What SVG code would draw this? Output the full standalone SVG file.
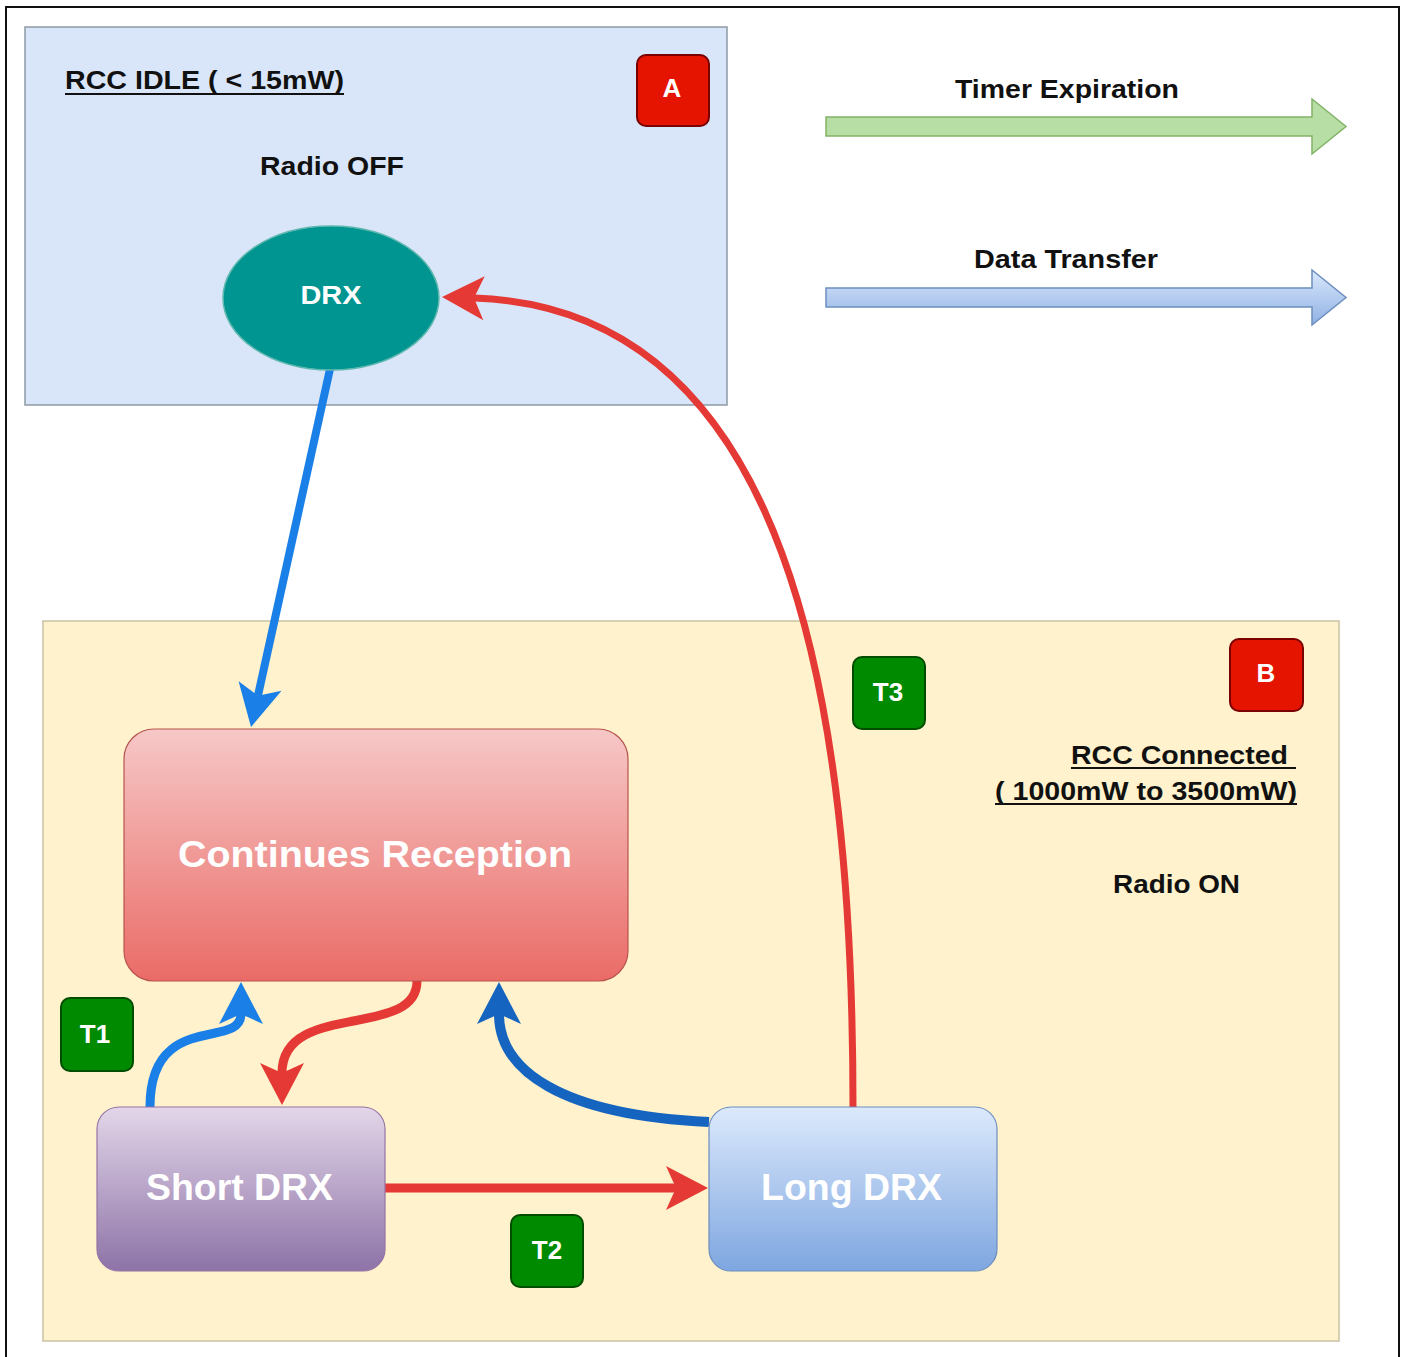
<svg xmlns="http://www.w3.org/2000/svg" width="1405" height="1357" viewBox="0 0 1405 1357">
<style>
.t{font-family:"Liberation Sans",Arial,sans-serif;font-weight:bold;fill:#111}
.w{font-family:"Liberation Sans",Arial,sans-serif;font-weight:bold;fill:#fff}
.badgeR{fill:#e51400;stroke:#7a0000;stroke-width:2}
.badgeG{fill:#008a00;stroke:#004d00;stroke-width:2}
.ul{stroke:#111;stroke-width:2}
.c{fill:none}
</style>
<defs>
<linearGradient id="gCR" x1="0" y1="0" x2="0" y2="1"><stop offset="0" stop-color="#f6c8c7"/><stop offset="1" stop-color="#ea6b66"/></linearGradient>
<linearGradient id="gSD" x1="0" y1="0" x2="0" y2="1"><stop offset="0" stop-color="#e3d6e9"/><stop offset="1" stop-color="#8d73a7"/></linearGradient>
<linearGradient id="gLD" x1="0" y1="0" x2="0" y2="1"><stop offset="0" stop-color="#dce9fc"/><stop offset="1" stop-color="#7ea6e0"/></linearGradient>
<linearGradient id="gLB" x1="0" y1="0" x2="0" y2="1"><stop offset="0" stop-color="#dae8fc"/><stop offset="1" stop-color="#8fb1e3"/></linearGradient>
<marker id="mRed" markerUnits="userSpaceOnUse" viewBox="-15 -30 60 60" markerWidth="60" markerHeight="60" refX="0" refY="0" orient="auto"><path d="M32,0 L-10,-22 L0,0 L-10,22 Z" fill="#e53935"/></marker>
<marker id="mBlue" markerUnits="userSpaceOnUse" viewBox="-15 -30 60 60" markerWidth="60" markerHeight="60" refX="0" refY="0" orient="auto"><path d="M32,0 L-10,-22 L0,0 L-10,22 Z" fill="#1a7fe6"/></marker>
<marker id="mDBlue" markerUnits="userSpaceOnUse" viewBox="-15 -30 60 60" markerWidth="60" markerHeight="60" refX="0" refY="0" orient="auto"><path d="M32,0 L-10,-22 L0,0 L-10,22 Z" fill="#1565c0"/></marker>
</defs>
<rect x="0" y="0" width="1405" height="1357" fill="#fff"/>
<rect x="6" y="7" width="1393" height="1400" fill="#fff" stroke="#111" stroke-width="2"/>

<g id="stateA">
<rect x="25" y="27" width="702" height="378" fill="#d9e6f9" stroke="#8e99a6" stroke-width="1.5"/>
<text class="t" x="65" y="89" font-size="26" textLength="279" lengthAdjust="spacingAndGlyphs">RCC IDLE ( &lt; 15mW)</text>
<line class="ul" x1="65" y1="94" x2="344" y2="94"/>
<text class="t" x="260" y="175" font-size="26" textLength="144" lengthAdjust="spacingAndGlyphs">Radio OFF</text>
</g>
<g id="badgeA">
<rect class="badgeR" x="637" y="55" width="72" height="71" rx="9"/>
<text class="w" x="672" y="97" font-size="26" text-anchor="middle">A</text>
</g>

<g id="stateB">
<rect x="43" y="621" width="1296" height="720" fill="#fff2cc" stroke="#c9c2a2" stroke-width="1.5"/>
<text class="t" x="1071" y="764" font-size="26" textLength="217" lengthAdjust="spacingAndGlyphs">RCC Connected</text>
<line class="ul" x1="1071" y1="768" x2="1296" y2="768"/>
<text class="t" x="995" y="800" font-size="26" textLength="302" lengthAdjust="spacingAndGlyphs">( 1000mW to 3500mW)</text>
<line class="ul" x1="995" y1="804" x2="1297" y2="804"/>
<text class="t" x="1113" y="893" font-size="26" textLength="127" lengthAdjust="spacingAndGlyphs">Radio ON</text>
</g>
<g id="badgeB">
<rect class="badgeR" x="1230" y="639" width="73" height="72" rx="9"/>
<text class="w" x="1266" y="682" font-size="26" text-anchor="middle">B</text>
</g>

<g id="legend">
<text class="t" x="955" y="98" font-size="26" textLength="224" lengthAdjust="spacingAndGlyphs">Timer Expiration</text>
<path d="M826,117 L1312,117 L1312,99 L1346,126.5 L1312,154 L1312,136 L826,136 Z" fill="#b7dea4" stroke="#82b366" stroke-width="1.5"/>
<text class="t" x="974" y="268" font-size="26" textLength="184" lengthAdjust="spacingAndGlyphs">Data Transfer</text>
<path d="M826,288 L1312,288 L1312,270 L1346,297.5 L1312,325 L1312,307 L826,307 Z" fill="url(#gLB)" stroke="#6c8ebf" stroke-width="1.5"/>
</g>

<g id="connectors" class="c">
<path d="M330,369 L257.9,695.8" stroke="#1a7fe6" stroke-width="8" marker-end="url(#mBlue)"/>
<path d="M853,1107 C853,700 790,308 474,298" stroke="#e53935" stroke-width="7" marker-end="url(#mRed)"/>
<path d="M385,1188 L676,1188" stroke="#e53935" stroke-width="9" marker-end="url(#mRed)"/>
<path d="M150,1107 C150,1010 241,1050 241,1014" stroke="#1a7fe6" stroke-width="9" marker-end="url(#mBlue)"/>
<path d="M417,981 C417,1040 282,1000 282,1073" stroke="#e53935" stroke-width="9" marker-end="url(#mRed)"/>
<path d="M709,1122 C560,1115 499,1070 499,1014" stroke="#1565c0" stroke-width="10" marker-end="url(#mDBlue)"/>
</g>

<g id="drx">
<ellipse cx="331" cy="298" rx="108" ry="72" fill="#009590" stroke="#5fb8b0" stroke-width="1.5"/>
<text class="w" x="331" y="304" font-size="26" text-anchor="middle" textLength="61" lengthAdjust="spacingAndGlyphs">DRX</text>
</g>

<g id="continuesReception">
<rect x="124" y="729" width="504" height="252" rx="30" fill="url(#gCR)" stroke="#b85450" stroke-width="1.2"/>
<text class="w" x="178" y="867" font-size="36" textLength="394" lengthAdjust="spacingAndGlyphs">Continues Reception</text>
</g>

<g id="shortDRX">
<rect x="97" y="1107" width="288" height="164" rx="22" fill="url(#gSD)" stroke="#9673a6" stroke-width="1.2"/>
<text class="w" x="146" y="1200" font-size="36" textLength="187" lengthAdjust="spacingAndGlyphs">Short DRX</text>
</g>

<g id="longDRX">
<rect x="709" y="1107" width="288" height="164" rx="22" fill="url(#gLD)" stroke="#6c8ebf" stroke-width="1.2"/>
<text class="w" x="761" y="1200" font-size="36" textLength="181" lengthAdjust="spacingAndGlyphs">Long DRX</text>
</g>

<g id="t1">
<rect class="badgeG" x="61" y="998" width="72" height="73" rx="9"/>
<text class="w" x="95" y="1043" font-size="26" text-anchor="middle">T1</text>
</g>
<g id="t2">
<rect class="badgeG" x="511" y="1215" width="72" height="72" rx="9"/>
<text class="w" x="547" y="1259" font-size="26" text-anchor="middle">T2</text>
</g>
<g id="t3">
<rect class="badgeG" x="853" y="657" width="72" height="72" rx="9"/>
<text class="w" x="888" y="701" font-size="26" text-anchor="middle">T3</text>
</g>
</svg>
